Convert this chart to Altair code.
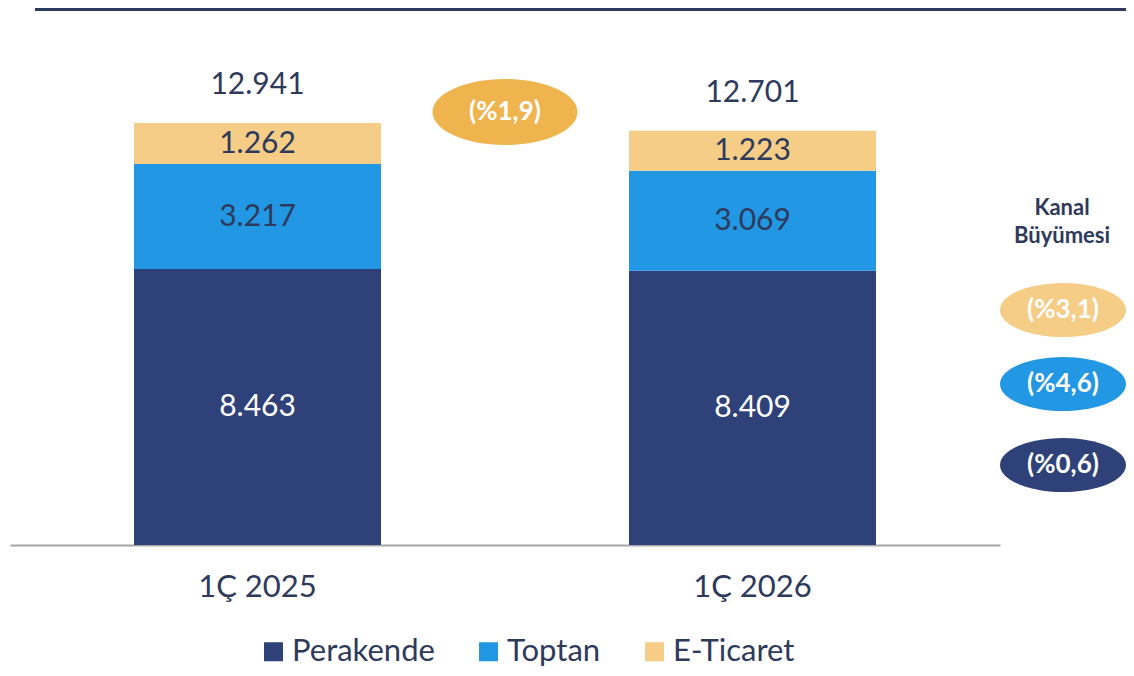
import altair as alt
import pandas as pd

CATEGORIES = ["1Ç 2025", "1Ç 2026"]
SERIES = ["Perakende", "Toptan", "E-Ticaret"]
PERAKENDE = [8463, 8409]
TOPTAN = [3217, 3069]
ETICARET = [1262, 1223]
TOTALS = [12941, 12701]
TOTAL_GROWTH = "(%1,9)"
CHANNEL_GROWTH = ["(%0,6)", "(%4,6)", "(%3,1)"]  # Perakende, Toptan, E-Ticaret
GROWTH_TITLE = ["Kanal", "Büyümesi"]

COLORS = ["#2E4179", "#2297E3", "#F6CD86"]
GOLD = "#F0B44F"
TEXT = "#2E3A5C"
FONT = "Lato"


def fmt(v):
    return f"{v:,}".replace(",", ".")


rows = []
for i, cat in enumerate(CATEGORIES):
    lower = 0
    for s, vals in zip(SERIES, [PERAKENDE, TOPTAN, ETICARET]):
        v = vals[i]
        rows.append({"cat": cat, "series": s, "value": v, "lower": lower,
                     "upper": lower + v, "mid": lower + v / 2, "label": fmt(v)})
        lower += v
seg = pd.DataFrame(rows)
tot = pd.DataFrame({"cat": CATEGORIES, "total": TOTALS, "label": [fmt(t) for t in TOTALS]})

W, H = 990, 537
xscale = alt.Scale(domain=CATEGORIES, paddingInner=0.5, paddingOuter=0.25)
yscale = alt.Scale(domain=[0, 16467], nice=False)

x_enc = alt.X("cat:N", scale=xscale, sort=CATEGORIES, title=None,
              axis=alt.Axis(labelAngle=0, labelFontSize=31, labelFont=FONT, labelColor=TEXT,
                            labelPadding=27, ticks=False, domainColor="#A6A6A6", domainWidth=2))

bars = alt.Chart(seg).mark_bar(size=247).encode(
    x=x_enc,
    y=alt.Y("lower:Q", scale=yscale, axis=None),
    y2="upper:Q",
    color=alt.Color("series:N", sort=SERIES,
                    scale=alt.Scale(domain=SERIES, range=COLORS),
                    legend=alt.Legend(title=None, orient="none", legendX=248, legendY=628,
                                      direction="horizontal", symbolType="square",
                                      symbolSize=361, symbolStrokeWidth=0, labelFontSize=31,
                                      labelFont=FONT, labelColor=TEXT, labelOffset=3,
                                      columnPadding=38)),
)

seg_dark = alt.Chart(seg).transform_filter(alt.datum.series != "Perakende").mark_text(
    fontSize=30, font=FONT, color=TEXT, baseline="middle").encode(
    x=alt.X("cat:N", scale=xscale, sort=CATEGORIES), y=alt.Y("mid:Q", scale=yscale), text="label:N")
seg_light = alt.Chart(seg).transform_filter(alt.datum.series == "Perakende").mark_text(
    fontSize=30, font=FONT, color="white", baseline="middle").encode(
    x=alt.X("cat:N", scale=xscale, sort=CATEGORIES), y=alt.Y("mid:Q", scale=yscale), text="label:N")

totals = alt.Chart(tot).mark_text(fontSize=30, font=FONT, color=TEXT, baseline="middle", dy=-38).encode(
    x=alt.X("cat:N", scale=xscale, sort=CATEGORIES), y=alt.Y("total:Q", scale=yscale), text="label:N")

one = pd.DataFrame({"a": [0]})

top_rule = alt.Chart(one).mark_rule(color="#2E3A5C", strokeWidth=3).encode(
    x=alt.value(25), x2=alt.value(1124), y=alt.value(1.5))

k = 0.5523


def ellipse(r):
    return (f"M -1 0 C -1 {-k*r:.4f} {-k:.4f} {-r} 0 {-r} C {k:.4f} {-r} 1 {-k*r:.4f} 1 0 "
            f"C 1 {k*r:.4f} {k:.4f} {r} 0 {r} C {-k:.4f} {r} -1 {k*r:.4f} -1 0 Z")


layers = [bars, seg_dark, seg_light, totals, top_rule]

# total growth bubble
layers.append(alt.Chart(one).mark_point(shape=ellipse(0.455), filled=True, opacity=1,
                                         color=GOLD, size=145 ** 2, strokeWidth=0).encode(
    x=alt.value(495), y=alt.value(104)))
layers.append(alt.Chart(one).mark_text(fontSize=26, font=FONT, fontWeight="bold", color="white",
                                        baseline="middle").encode(
    x=alt.value(495), y=alt.value(104), text=alt.value(TOTAL_GROWTH)))

# channel growth bubbles
bubble_y = [457, 376, 302]
for s_i in range(3):
    layers.append(alt.Chart(one).mark_point(shape=ellipse(0.43), filled=True, opacity=1,
                                             color=COLORS[s_i], size=126 ** 2, strokeWidth=0).encode(
        x=alt.value(1053), y=alt.value(bubble_y[s_i])))
    layers.append(alt.Chart(one).mark_text(fontSize=26, font=FONT, fontWeight="bold", color="white",
                                            baseline="middle").encode(
        x=alt.value(1053), y=alt.value(bubble_y[s_i]), text=alt.value(CHANNEL_GROWTH[s_i])))

title_y = [200, 228]
for t_i, t in enumerate(GROWTH_TITLE):
    layers.append(alt.Chart(one).mark_text(fontSize=22, font=FONT, fontWeight="bold", color=TEXT,
                                            baseline="middle").encode(
        x=alt.value(1052), y=alt.value(title_y[t_i]), text=alt.value(t)))

chart = alt.layer(*layers).properties(
    width=W, height=H,
    autosize=alt.AutoSizeParams(type="none"),
    padding={"left": 2, "top": 0, "right": 126, "bottom": 123},
).configure_view(stroke=None)

chart.save("out.html", embed_options={"renderer": "svg", "actions": False})
